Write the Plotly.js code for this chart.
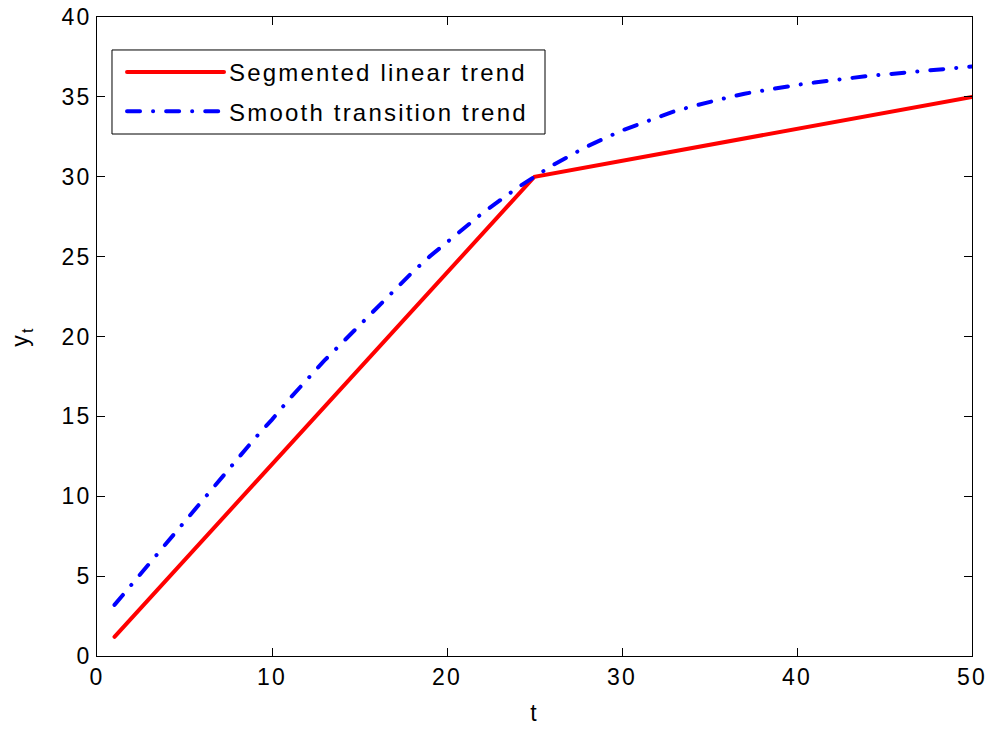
<!DOCTYPE html>
<html>
<head>
<meta charset="utf-8">
<script src="https://cdn.plot.ly/plotly-3.0.1.min.js"></script>
<style>
html,body{margin:0;padding:0;background:#fff;}
#chart{width:995px;height:729px;}
text{letter-spacing:2.2px;}
#chart path.js-line{stroke-linecap:round !important;}
</style>
</head>
<body>
<div id="chart"></div>
<script>
// Segmented linear trend (knots)
const segT = [1, 25, 50];
const segY = [1.2, 30, 35];

// Smooth transition trend (t = 1..50)
const smoothT = [1,2,3,4,5,6,7,8,9,10,11,12,13,14,15,16,17,18,19,20,21,22,23,24,25,
                 26,27,28,29,30,31,32,33,34,35,36,37,38,39,40,41,42,43,44,45,46,47,48,49,50];
const smoothY = [3.2,4.5,5.8,7.1,8.4,9.7,11.0,12.3,13.6,14.8,16.1,17.3,18.5,19.6,20.7,21.8,22.9,24.0,25.0,25.9,
                 26.8,27.7,28.5,29.3,30.0,30.7,31.3,31.9,32.4,32.9,33.3,33.7,34.1,34.4,34.7,34.95,35.2,35.4,35.6,35.75,
                 35.9,36.05,36.2,36.3,36.4,36.5,36.6,36.7,36.8,36.9];

const seriesNames = ["Segmented linear trend", "Smooth transition trend"];
const xTicks = [0, 10, 20, 30, 40, 50];
const yTicks = [0, 5, 10, 15, 20, 25, 30, 35, 40];

const font = {family: "Liberation Sans, Arial, sans-serif", size: 23, color: "#000"};

const traces = [
  {x: segT, y: segY, name: seriesNames[0], mode: "lines", legendgroup: "a",
   line: {color: "#ff0000", width: 4}},
  {x: smoothT, y: smoothY, name: seriesNames[1], mode: "lines", legendgroup: "b",
   line: {color: "#0000ff", width: 4, dash: "13px,13px,0.1px,13px"}}
];

const axisCommon = {
  showline: true, linecolor: "#000", linewidth: 1, mirror: "ticks",
  ticks: "inside", ticklen: 8, tickcolor: "#000", tickwidth: 1,
  showgrid: false, zeroline: false, tickfont: font
};

const layout = {
  width: 995, height: 729,
  margin: {l: 97, r: 23, t: 17, b: 73},
  paper_bgcolor: "#fff", plot_bgcolor: "#fff",
  font: font,
  showlegend: true,
  legend: {
    x: 0.0286, y: 0.9485, xanchor: "left", yanchor: "top",
    borderwidth: 0, bgcolor: "rgba(0,0,0,0)",
    font: {family: font.family, size: 24, color: "#000"},
    itemwidth: 97, tracegroupgap: 5
  },
  shapes: [
    {type: "rect", xref: "paper", yref: "paper", x0: 0.01714, x1: 0.512, y0: 0.8169, y1: 0.9484,
     line: {color: "#000", width: 1}, fillcolor: "#fff", layer: "above"}
  ],
  xaxis: Object.assign({}, axisCommon, {
    range: [0, 50], tickvals: xTicks, ticktext: xTicks.map(String),
    title: {text: "t", font: font, standoff: 16}
  }),
  yaxis: Object.assign({}, axisCommon, {
    range: [0, 40], tickvals: yTicks, ticktext: yTicks.map(String),
    title: {text: "y<sub>t</sub>", font: font, standoff: 26}
  })
};

Plotly.newPlot("chart", traces, layout, {displayModeBar: false, staticPlot: true});
</script>
</body>
</html>
